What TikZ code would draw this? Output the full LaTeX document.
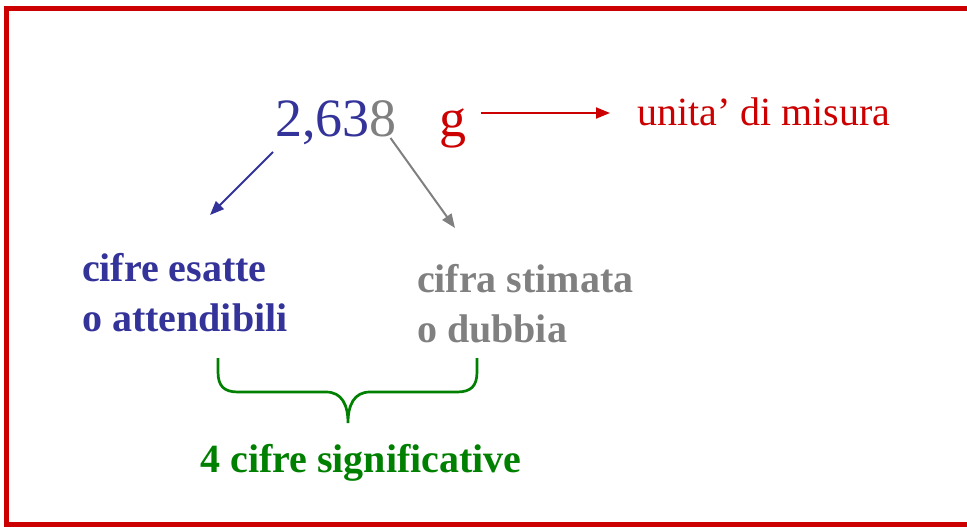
\documentclass[tikz,border=0pt]{standalone}
\usepackage{fontspec}
\setmainfont{Liberation Serif}
\usetikzlibrary{arrows.meta,positioning,calc}
\definecolor{digitblue}{RGB}{51,51,153}
\definecolor{doubtgray}{RGB}{128,128,128}
\definecolor{unitred}{RGB}{204,0,0}
\definecolor{sigreen}{RGB}{0,128,0}

\begin{document}
\begin{tikzpicture}
[x=1pt, y=-1pt, font=\fontsize{40}{50}\selectfont,
% STYLES
every node/.style={inner sep=0pt, outer sep=0pt},
% The digit style is used to draw the measured value and its unit
digit/.style={anchor=base west, font=\fontsize{54}{60}\selectfont},
% The comment style is used to describe each group of digits
comment/.style={anchor=base west, align=left, font=\fontsize{40}{50}\selectfont\bfseries},
% The pointer style is used to draw the arrows
pointer/.style={-{Triangle[length=14pt,width=11pt]}, line width=2pt}]

\useasboundingbox (0,0) rectangle (967,527);
% Draw the frame (its right side lies outside the picture)
\draw[unitred, line width=5pt] (967,8.5) -- (6.5,8.5) -- (6.5,524.5) -- (967,524.5);

% Draw value and unit
\node [digit, text=digitblue] (digits) at (275,136) {2,63};
\node [digit, text=doubtgray, base right=0pt of digits] (doubtdigit) {8};
\node [digit, text=unitred, base right=43pt of doubtdigit] (unit) {g};
\node [anchor=base west, text=unitred] (unitname) at (637,125) {unita’ di misura};

% Draw comments (base is the last line)
\node [comment, text=digitblue] (exact) at (82,331) {cifre esatte\\o attendibili};
\node [comment, text=doubtgray] (doubtful) at (417,342) {cifra stimata\\o dubbia};
\node [comment, anchor=base, text=sigreen] (significant) at (361,472) {4 cifre significative};

% Arrow ends
\coordinate (exactstart) at ($(digits.base west)+(-2,16)$);
\coordinate (exactend) at ($(exact.base west)+(128,-116)$);
\coordinate (doubtstart) at ($(doubtdigit.base east)+(-6,2)$);
\coordinate (doubtend) at ($(doubtful.base west)+(38,-114)$);
\coordinate (unitstart) at ($(unit.base east)+(14,-23)$);
\coordinate (unitend) at ($(unitname.base west)+(-27,-12)$);

% Brace ends
\coordinate (braceleft) at ($(significant.base)+(-143,-114)$);
\coordinate (braceright) at ($(significant.base)+(116,-114)$);
\coordinate (bracetip) at ($(significant.base)+(-13,-49)$);

% Draw the links
\path[pointer, digitblue] (exactstart) edge (exactend);
\path[pointer, doubtgray] (doubtstart) edge (doubtend);
\path[pointer, unitred] (unitstart) edge (unitend);

% Draw the brace
\draw[sigreen, line width=2.7pt] (braceleft) -- ++(0,14)
  .. controls +(0,14) and +(-14,0) .. ++(20,20)
  -- ($(bracetip)+(-22,-31)$)
  .. controls +(16,0) and +(0,-18) .. (bracetip)
  .. controls +(0,-18) and +(-16,0) .. ($(bracetip)+(22,-31)$)
  -- ($(braceright)+(-20,34)$)
  .. controls +(14,0) and +(0,14) .. ($(braceright)+(0,14)$)
  -- (braceright);

\end{tikzpicture}
\end{document}
